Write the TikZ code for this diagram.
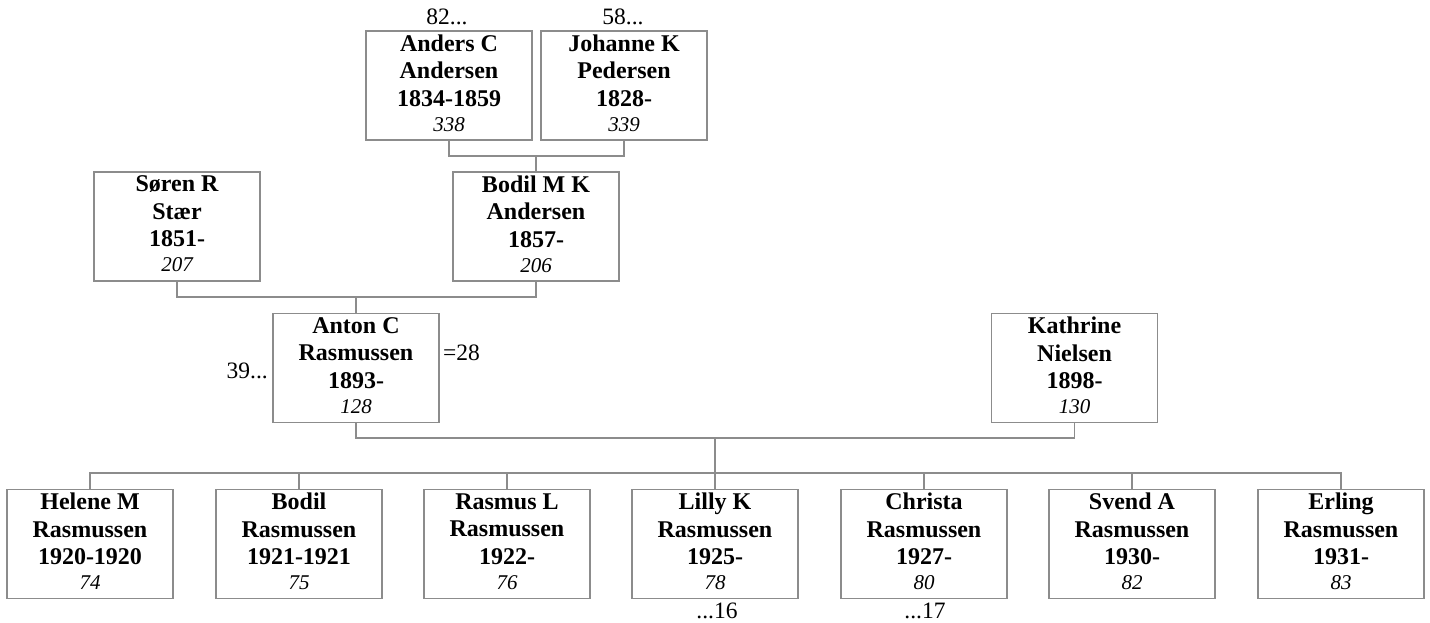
\documentclass[tikz,border=0pt]{standalone}
\usepackage{fontspec}
\setmainfont{Liberation Serif}
\definecolor{linegray}{HTML}{8C8C8C}
\tikzset{
  pbox/.style={draw=linegray, line width=1.3pt, rectangle, minimum width=166pt, minimum height=109pt,
    inner sep=0pt, align=center, font=\fontsize{24}{27.5}\selectfont\bfseries},
  conn/.style={draw=linegray, line width=1.3pt},
  note/.style={inner sep=0pt, font=\fontsize{23.5}{27.5}\selectfont}
}
\newcommand{\pnum}[1]{\\[-2.5pt]{\fontsize{21}{22}\selectfont\mdseries\itshape #1}\rule[-5pt]{0pt}{5pt}}
\begin{document}
\begin{tikzpicture}[x=1pt,y=-1pt]
\useasboundingbox (0,0) rectangle (1430,623);
% generation 1
\node[pbox] (anders) at (449,85.5) {Anders C\\Andersen\\1834-1859\pnum{338}};
\node[pbox] (johanne) at (624,85.5) {Johanne K\\Pedersen\\1828-\pnum{339}};
% generation 2
\node[pbox] (soren) at (177,226.5) {Søren R\\Stær\\1851-\pnum{207}};
\node[pbox] (bodilmk) at (536,226.5) {Bodil M K\\Andersen\\1857-\pnum{206}};
% generation 3
\node[pbox] (anton) at (356,368) {Anton C\\Rasmussen\\1893-\pnum{128}};
\node[pbox] (kathrine) at (1074.5,368) {Kathrine\\Nielsen\\1898-\pnum{130}};
% children
\node[pbox] (c1) at (90,544) {Helene M\\Rasmussen\\1920-1920\pnum{74}};
\node[pbox] (c2) at (299,544) {Bodil\\Rasmussen\\1921-1921\pnum{75}};
\node[pbox] (c3) at (507,544) {Rasmus L\\Rasmussen\\1922-\pnum{76}};
\node[pbox] (c4) at (715,544) {Lilly K\\Rasmussen\\1925-\pnum{78}};
\node[pbox] (c5) at (924,544) {Christa\\Rasmussen\\1927-\pnum{80}};
\node[pbox] (c6) at (1132,544) {Svend A\\Rasmussen\\1930-\pnum{82}};
\node[pbox] (c7) at (1341,544) {Erling\\Rasmussen\\1931-\pnum{83}};
% notes
\node[note, anchor=base] (n82) at (447,25) {82...};
\node[note, anchor=base] (n58) at (623,25) {58...};
\node[note, anchor=base east] (n39) at (268,378) {39...};
\node[note, anchor=base west] (n28) at (443,360) {=28};
\node[note, anchor=base] (n16) at (717,618) {...16};
\node[note, anchor=base] (n17) at (925,618) {...17};
% connectors
\coordinate (j1) at (536,156);
\draw[conn] (anders.south) |- (j1) -| (johanne.south);
\draw[conn] (j1) -- (bodilmk.north);
\coordinate (j2) at (356,297);
\draw[conn] (soren.south) |- (j2) -| (bodilmk.south);
\draw[conn] (j2) -- (anton.north);
\coordinate (j3) at (715,438);
\coordinate (j4) at (715,473);
\draw[conn] (anton.south) |- (j3) -| (kathrine.south);
\draw[conn] (j3) -- (j4);
\draw[conn] (c1.north) |- (j4) -| (c7.north);
\foreach \c in {c2,c3,c4,c5,c6} \draw[conn] (\c.north) -- (\c.north |- j4);
\end{tikzpicture}
\end{document}
